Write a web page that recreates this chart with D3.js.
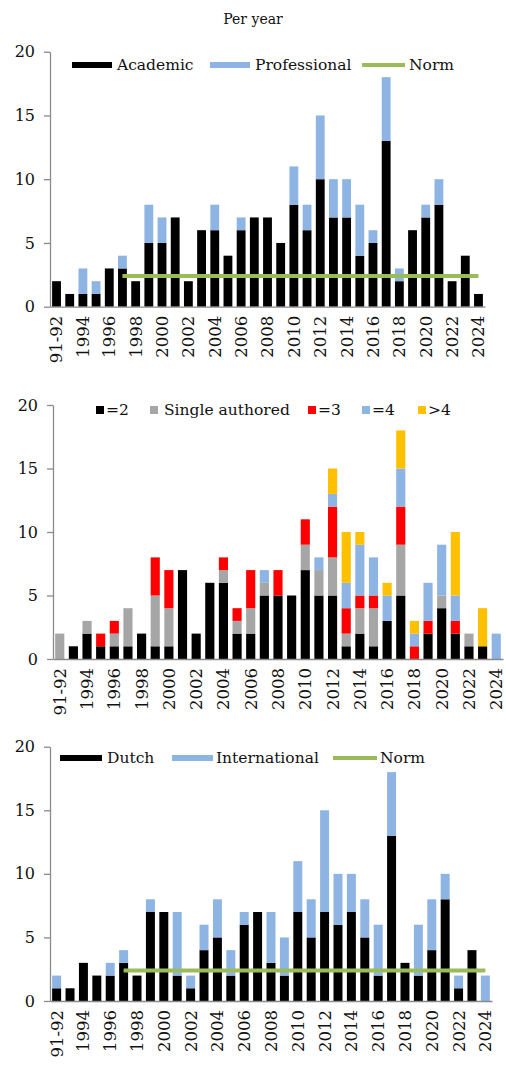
<!DOCTYPE html>
<meta charset="utf-8">
<html>
<head>
    <style>
        body {
            margin: 0;
            background-color: #fff;
        }

        text {
            font-family: "DejaVu Serif", "Liberation Serif", serif;
            fill: #111;
        }

        .axis path, .axis line {
            stroke: #8a8a8a;
            stroke-width: 1.3px;
        }

        .axis text {
            font-size: 16px;
        }

        .xaxis text {
            font-size: 16.5px;
        }

        .legend text {
            font-size: 15.5px;
        }
    </style>
    <title>Per year</title>
    <script type="text/javascript" src="https://cdn.jsdelivr.net/npm/d3@7"></script>
</head>
<body>
<div id="chart"></div>
<script type="text/javascript">
    const years = ["91-92", "1993", "1994", "1995", "1996", "1997", "1998", "1999", "2000", "2001", "2002",
        "2003", "2004", "2005", "2006", "2007", "2008", "2009", "2010", "2011", "2012", "2013", "2014",
        "2015", "2016", "2017", "2018", "2019", "2020", "2021", "2022", "2023", "2024"];
    const yTicks = [0, 5, 10, 15, 20];

    // panel 1: academic vs professional
    const academic = [2, 1, 1, 1, 3, 3, 2, 5, 5, 7, 2, 6, 6, 4, 6, 7, 7, 5, 8, 6, 10, 7, 7, 4, 5, 13, 2, 6, 7, 8, 2, 4, 1];
    const professional = [0, 0, 2, 1, 0, 1, 0, 3, 2, 0, 0, 0, 2, 0, 1, 0, 0, 0, 3, 2, 5, 3, 3, 4, 1, 5, 1, 0, 1, 2, 0, 0, 0];

    // panel 2: number of authors
    const authors2 = [0, 1, 2, 1, 1, 1, 2, 1, 1, 7, 2, 6, 6, 2, 2, 5, 5, 5, 7, 5, 5, 1, 2, 1, 3, 5, 0, 2, 4, 2, 1, 1, 0];
    const single = [2, 0, 1, 0, 1, 3, 0, 4, 3, 0, 0, 0, 1, 1, 2, 1, 0, 0, 2, 2, 3, 1, 2, 3, 0, 4, 0, 0, 1, 0, 1, 0, 0];
    const authors3 = [0, 0, 0, 1, 1, 0, 0, 3, 3, 0, 0, 0, 1, 1, 3, 0, 2, 0, 2, 0, 4, 2, 1, 1, 0, 3, 1, 1, 0, 1, 0, 0, 0];
    const authors4 = [0, 0, 0, 0, 0, 0, 0, 0, 0, 0, 0, 0, 0, 0, 0, 1, 0, 0, 0, 1, 1, 2, 4, 3, 2, 3, 1, 3, 4, 2, 0, 0, 2];
    const authorsMore = [0, 0, 0, 0, 0, 0, 0, 0, 0, 0, 0, 0, 0, 0, 0, 0, 0, 0, 0, 0, 2, 4, 1, 0, 1, 3, 1, 0, 0, 5, 0, 3, 0];

    // panel 3: dutch vs international
    const dutch = [1, 1, 3, 2, 2, 3, 2, 7, 7, 2, 1, 4, 5, 2, 6, 7, 3, 2, 7, 5, 7, 6, 7, 5, 2, 13, 3, 2, 4, 8, 1, 4, 0];
    const international = [1, 0, 0, 0, 1, 1, 0, 1, 0, 5, 1, 2, 3, 2, 1, 0, 4, 3, 4, 3, 8, 4, 3, 3, 4, 5, 0, 4, 4, 2, 1, 0, 2];

    // norm line (from 1997 on)
    const norm = years.map((d, i) => i >= 5 ? 2.4 : null);

    const W = 506, H = 1065;
    const svg = d3.select("#chart").append("svg")
        .attr("width", W)
        .attr("height", H);

    svg.append("text")
        .attr("x", 253)
        .attr("y", 24)
        .style("text-anchor", "middle")
        .style("font-size", "14px")
        .text("Per year");

    function drawPanel(p) {
        const g = svg.append("g");
        const x = d3.scaleBand().domain(years).range(p.xr).paddingInner(0.33).paddingOuter(0.16);
        const y = d3.scaleLinear().domain([0, 20]).range(p.yr);

        const rows = years.map((yr, i) => {
            const r = {year: yr};
            p.series.forEach(s => r[s.key] = s.values[i]);
            return r;
        });
        const stacked = d3.stack().keys(p.series.map(s => s.key))(rows);

        g.selectAll(".layer")
            .data(stacked)
            .enter().append("g")
            .attr("class", "layer")
            .style("fill", (d, i) => p.series[i].color)
            .selectAll("rect")
            .data(d => d)
            .enter().append("rect")
            .attr("x", d => x(d.data.year))
            .attr("y", d => y(d[1]))
            .attr("width", x.bandwidth())
            .attr("height", d => y(d[0]) - y(d[1]));

        if (p.norm) {
            const line = d3.line()
                .defined(d => d != null)
                .x((d, i) => x(years[i]) + x.bandwidth() / 2)
                .y(d => y(d));
            g.append("path")
                .datum(norm)
                .attr("d", line)
                .style("fill", "none")
                .style("stroke", "#9bbb59")
                .style("stroke-width", 4);
        }

        const yAxis = g.append("g")
            .attr("class", "axis")
            .attr("transform", "translate(" + p.xr[0] + ",0)")
            .call(d3.axisLeft(y).tickValues(yTicks).tickSize(6).tickSizeOuter(0));
        yAxis.selectAll("text").attr("x", -15);

        const xAxis = g.append("g")
            .attr("class", "axis xaxis")
            .attr("transform", "translate(0," + p.yr[0] + ")")
            .call(d3.axisBottom(x).tickSize(0).tickSizeOuter(0)
                .tickFormat((d, i) => i % 2 === 0 ? d : ""));
        xAxis.selectAll("text")
            .attr("transform", "rotate(-90)")
            .attr("x", -9)
            .attr("y", 0)
            .attr("dy", "0.36em")
            .style("text-anchor", "end");

        const lg = g.append("g").attr("class", "legend")
            .attr("transform", "translate(0," + p.legendY + ")");
        p.legend.forEach(it => {
            if (it.type === "line") {
                lg.append("line")
                    .attr("x1", it.x0).attr("x2", it.x1)
                    .attr("y1", 0).attr("y2", 0)
                    .style("stroke", it.color)
                    .style("stroke-width", it.w);
            } else {
                lg.append("rect")
                    .attr("x", it.x0).attr("y", -4)
                    .attr("width", 8).attr("height", 8)
                    .style("fill", it.color);
            }
            lg.append("text")
                .attr("x", it.tx)
                .attr("y", 0)
                .attr("dy", "0.35em")
                .text(it.label);
        });
    }

    drawPanel({
        xr: [50, 485], yr: [306.7, 51.7],
        series: [
            {key: "Academic", values: academic, color: "#000"},
            {key: "Professional", values: professional, color: "#8eb4e3"}
        ],
        norm: true,
        legendY: 65,
        legend: [
            {type: "line", x0: 72, x1: 112, w: 6, color: "#000", tx: 117, label: "Academic"},
            {type: "line", x0: 210, x1: 250, w: 6, color: "#8eb4e3", tx: 255, label: "Professional"},
            {type: "line", x0: 362, x1: 405, w: 4, color: "#9bbb59", tx: 409, label: "Norm"}
        ]
    });

    drawPanel({
        xr: [53, 503], yr: [659, 405],
        series: [
            {key: "=2", values: authors2, color: "#000"},
            {key: "Single authored", values: single, color: "#a6a6a6"},
            {key: "=3", values: authors3, color: "#ff0000"},
            {key: "=4", values: authors4, color: "#8eb4e3"},
            {key: ">4", values: authorsMore, color: "#ffc000"}
        ],
        norm: false,
        legendY: 410,
        legend: [
            {type: "rect", x0: 96, color: "#000", tx: 106, label: "=2"},
            {type: "rect", x0: 150, color: "#a6a6a6", tx: 164, label: "Single authored"},
            {type: "rect", x0: 308, color: "#ff0000", tx: 318, label: "=3"},
            {type: "rect", x0: 362, color: "#8eb4e3", tx: 372, label: "=4"},
            {type: "rect", x0: 418, color: "#ffc000", tx: 428, label: ">4"}
        ]
    });

    drawPanel({
        xr: [50, 492], yr: [1001, 746.7],
        series: [
            {key: "Dutch", values: dutch, color: "#000"},
            {key: "International", values: international, color: "#8eb4e3"}
        ],
        norm: true,
        legendY: 758,
        legend: [
            {type: "line", x0: 60, x1: 102, w: 6, color: "#000", tx: 107, label: "Dutch"},
            {type: "line", x0: 172, x1: 213, w: 6, color: "#8eb4e3", tx: 216, label: "International"},
            {type: "line", x0: 333, x1: 377, w: 4, color: "#9bbb59", tx: 380, label: "Norm"}
        ]
    });
</script>
</body>
</html>
